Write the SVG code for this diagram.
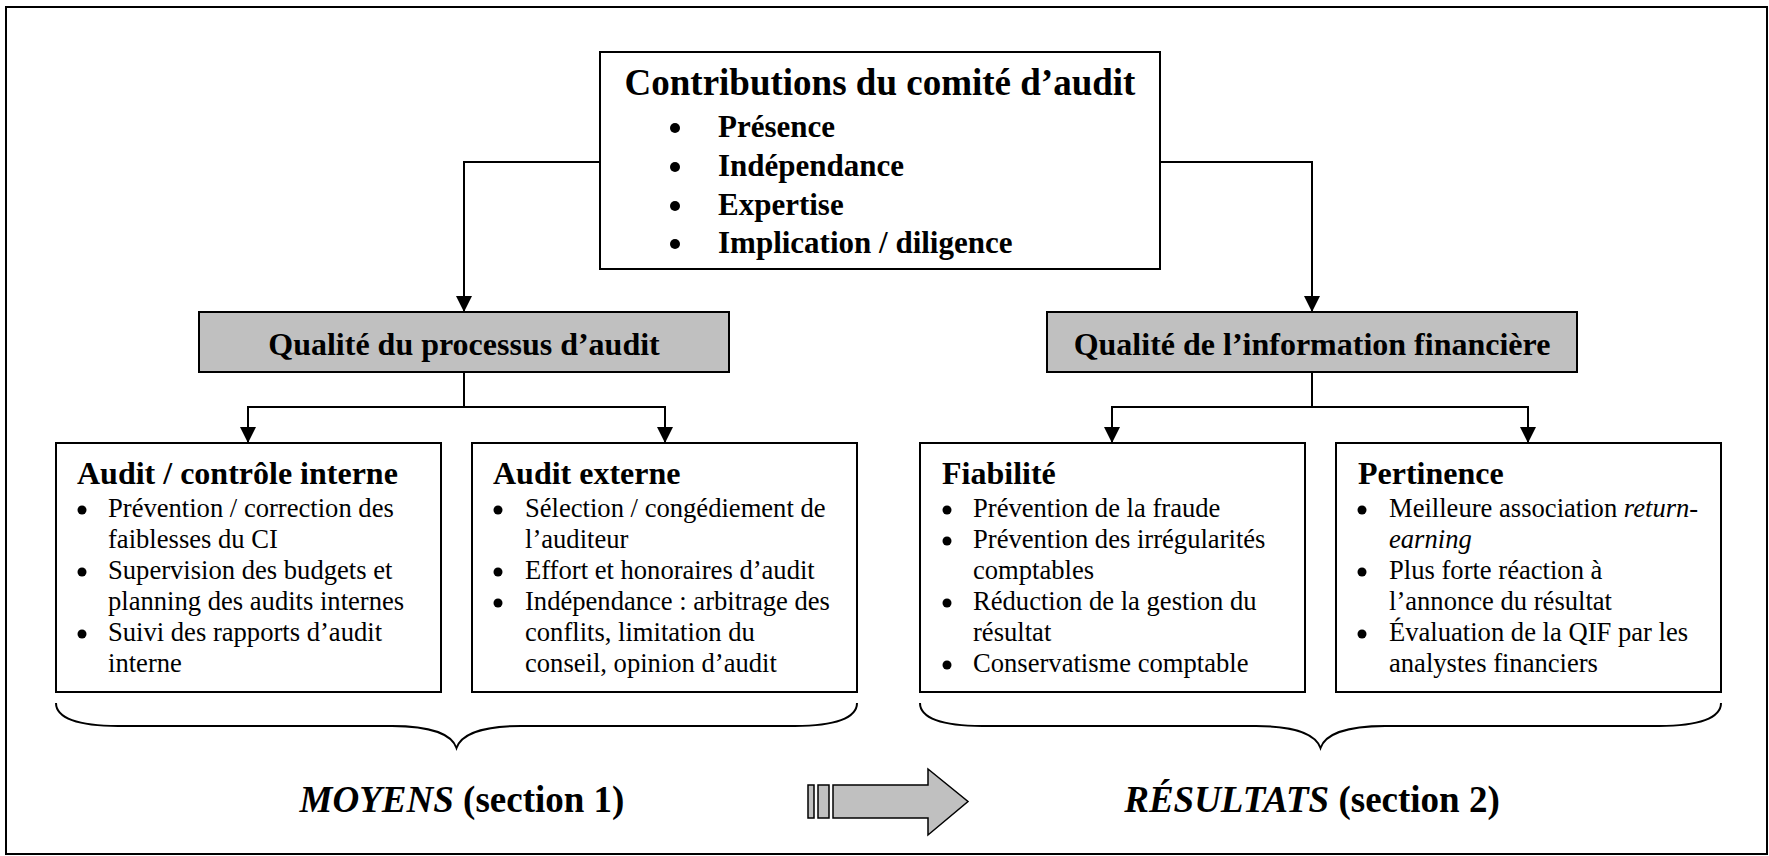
<svg xmlns="http://www.w3.org/2000/svg" width="1769" height="856" viewBox="0 0 1769 856">
<style>
.box{fill:#fff;stroke:#000;stroke-width:2}
.gbox{fill:#c0c0c0;stroke:#000;stroke-width:2}
.ln{fill:none;stroke:#000;stroke-width:2}
.t{font-family:"Liberation Serif","Times New Roman",serif;fill:#000}
.title{font-size:37px;font-weight:bold}
.b31{font-size:31px;font-weight:bold}
.h{font-size:32px;font-weight:bold}
.body{font-size:26.6px}
.big{font-size:37px;font-weight:bold}
.dot{fill:#000}
</style>
<defs>
<marker id="ah" viewBox="0 0 16 16" refX="16" refY="8" markerWidth="16" markerHeight="16" markerUnits="userSpaceOnUse" orient="auto">
<path d="M0,0 L16,8 L0,16 z" fill="#000"/>
</marker>
</defs>
<rect x="0" y="0" width="1769" height="856" fill="#fff"/>
<rect id="frame" x="6" y="7" width="1761" height="847" fill="none" stroke="#000" stroke-width="2"/>

<g id="connectors">
<path class="ln" d="M600,162 H464 V312" marker-end="url(#ah)"/>
<path class="ln" d="M1160,162 H1312 V312" marker-end="url(#ah)"/>
<path class="ln" d="M464,372 V407"/>
<path class="ln" d="M464,407 H248 V443" marker-end="url(#ah)"/>
<path class="ln" d="M464,407 H665 V443" marker-end="url(#ah)"/>
<path class="ln" d="M1312,372 V407"/>
<path class="ln" d="M1312,407 H1112 V443" marker-end="url(#ah)"/>
<path class="ln" d="M1312,407 H1528 V443" marker-end="url(#ah)"/>
</g>

<g id="top">
<rect class="box" x="600" y="52" width="560" height="217"/>
<text class="t title" x="880" y="95" text-anchor="middle">Contributions du comité d’audit</text>
<circle class="dot" cx="675" cy="128" r="5"/>
<circle class="dot" cx="675" cy="167" r="5"/>
<circle class="dot" cx="675" cy="206" r="5"/>
<circle class="dot" cx="675" cy="244" r="5"/>
<text class="t b31" x="718" y="137">Présence</text>
<text class="t b31" x="718" y="176">Indépendance</text>
<text class="t b31" x="718" y="215">Expertise</text>
<text class="t b31" x="718" y="253">Implication / diligence</text>
</g>

<g id="processus">
<rect class="gbox" x="199" y="312" width="530" height="60"/>
<text class="t h" x="464" y="355" text-anchor="middle">Qualité du processus d’audit</text>
</g>

<g id="information">
<rect class="gbox" x="1047" y="312" width="530" height="60"/>
<text class="t h" x="1312" y="355" text-anchor="middle">Qualité de l’information financière</text>
</g>

<g id="interne">
<rect class="box" x="56" y="443" width="385" height="249"/>
<text class="t h" x="77" y="484">Audit / contrôle interne</text>
<circle class="dot" cx="82" cy="510" r="4.5"/>
<circle class="dot" cx="82" cy="572" r="4.5"/>
<circle class="dot" cx="82" cy="634" r="4.5"/>
<text class="t body" x="108" y="517">Prévention / correction des</text>
<text class="t body" x="108" y="548">faiblesses du CI</text>
<text class="t body" x="108" y="579">Supervision des budgets et</text>
<text class="t body" x="108" y="610">planning des audits internes</text>
<text class="t body" x="108" y="641">Suivi des rapports d’audit</text>
<text class="t body" x="108" y="672">interne</text>
</g>

<g id="externe">
<rect class="box" x="472" y="443" width="385" height="249"/>
<text class="t h" x="493" y="484">Audit externe</text>
<circle class="dot" cx="498" cy="510" r="4.5"/>
<circle class="dot" cx="498" cy="572" r="4.5"/>
<circle class="dot" cx="498" cy="603" r="4.5"/>
<text class="t body" x="525" y="517">Sélection / congédiement de</text>
<text class="t body" x="525" y="548">l’auditeur</text>
<text class="t body" x="525" y="579">Effort et honoraires d’audit</text>
<text class="t body" x="525" y="610">Indépendance : arbitrage des</text>
<text class="t body" x="525" y="641">conflits, limitation du</text>
<text class="t body" x="525" y="672">conseil, opinion d’audit</text>
</g>

<g id="fiabilite">
<rect class="box" x="920" y="443" width="385" height="249"/>
<text class="t h" x="942" y="484">Fiabilité</text>
<circle class="dot" cx="947" cy="510" r="4.5"/>
<circle class="dot" cx="947" cy="541" r="4.5"/>
<circle class="dot" cx="947" cy="603" r="4.5"/>
<circle class="dot" cx="947" cy="665" r="4.5"/>
<text class="t body" x="973" y="517">Prévention de la fraude</text>
<text class="t body" x="973" y="548">Prévention des irrégularités</text>
<text class="t body" x="973" y="579">comptables</text>
<text class="t body" x="973" y="610">Réduction de la gestion du</text>
<text class="t body" x="973" y="641">résultat</text>
<text class="t body" x="973" y="672">Conservatisme comptable</text>
</g>

<g id="pertinence">
<rect class="box" x="1336" y="443" width="385" height="249"/>
<text class="t h" x="1358" y="484">Pertinence</text>
<circle class="dot" cx="1362" cy="510" r="4.5"/>
<circle class="dot" cx="1362" cy="572" r="4.5"/>
<circle class="dot" cx="1362" cy="634" r="4.5"/>
<text class="t body" x="1389" y="517">Meilleure association <tspan font-style="italic">return-</tspan></text>
<text class="t body" x="1389" y="548" font-style="italic">earning</text>
<text class="t body" x="1389" y="579">Plus forte réaction à</text>
<text class="t body" x="1389" y="610">l’annonce du résultat</text>
<text class="t body" x="1389" y="641">Évaluation de la QIF par les</text>
<text class="t body" x="1389" y="672">analystes financiers</text>
</g>

<g id="braces">
<path class="ln" stroke-width="1.8" d="M56,703 C56,718 78,726 118,726 L392,726 C432,726 452,735 456.5,748 C461,735 481,726 521,726 L795,726 C835,726 857,718 857,703"/>
<path class="ln" stroke-width="1.8" d="M920,703 C920,718 942,726 982,726 L1256,726 C1296,726 1316,735 1320.5,748 C1325,735 1345,726 1385,726 L1659,726 C1699,726 1721,718 1721,703"/>
</g>

<g id="moyens">
<text class="t big" x="462" y="812" text-anchor="middle"><tspan font-style="italic">MOYENS</tspan> (section 1)</text>
</g>
<g id="resultats">
<text class="t big" x="1312" y="812" text-anchor="middle"><tspan font-style="italic">RÉSULTATS</tspan> (section 2)</text>
</g>

<g id="bigarrow" fill="#c0c0c0" stroke="#000" stroke-width="1.5">
<rect x="808" y="785" width="6" height="33"/>
<rect x="818" y="785" width="11" height="33"/>
<path d="M833,785 H928 V769 L968,801.5 L928,835 V818 H833 z"/>
</g>
</svg>
